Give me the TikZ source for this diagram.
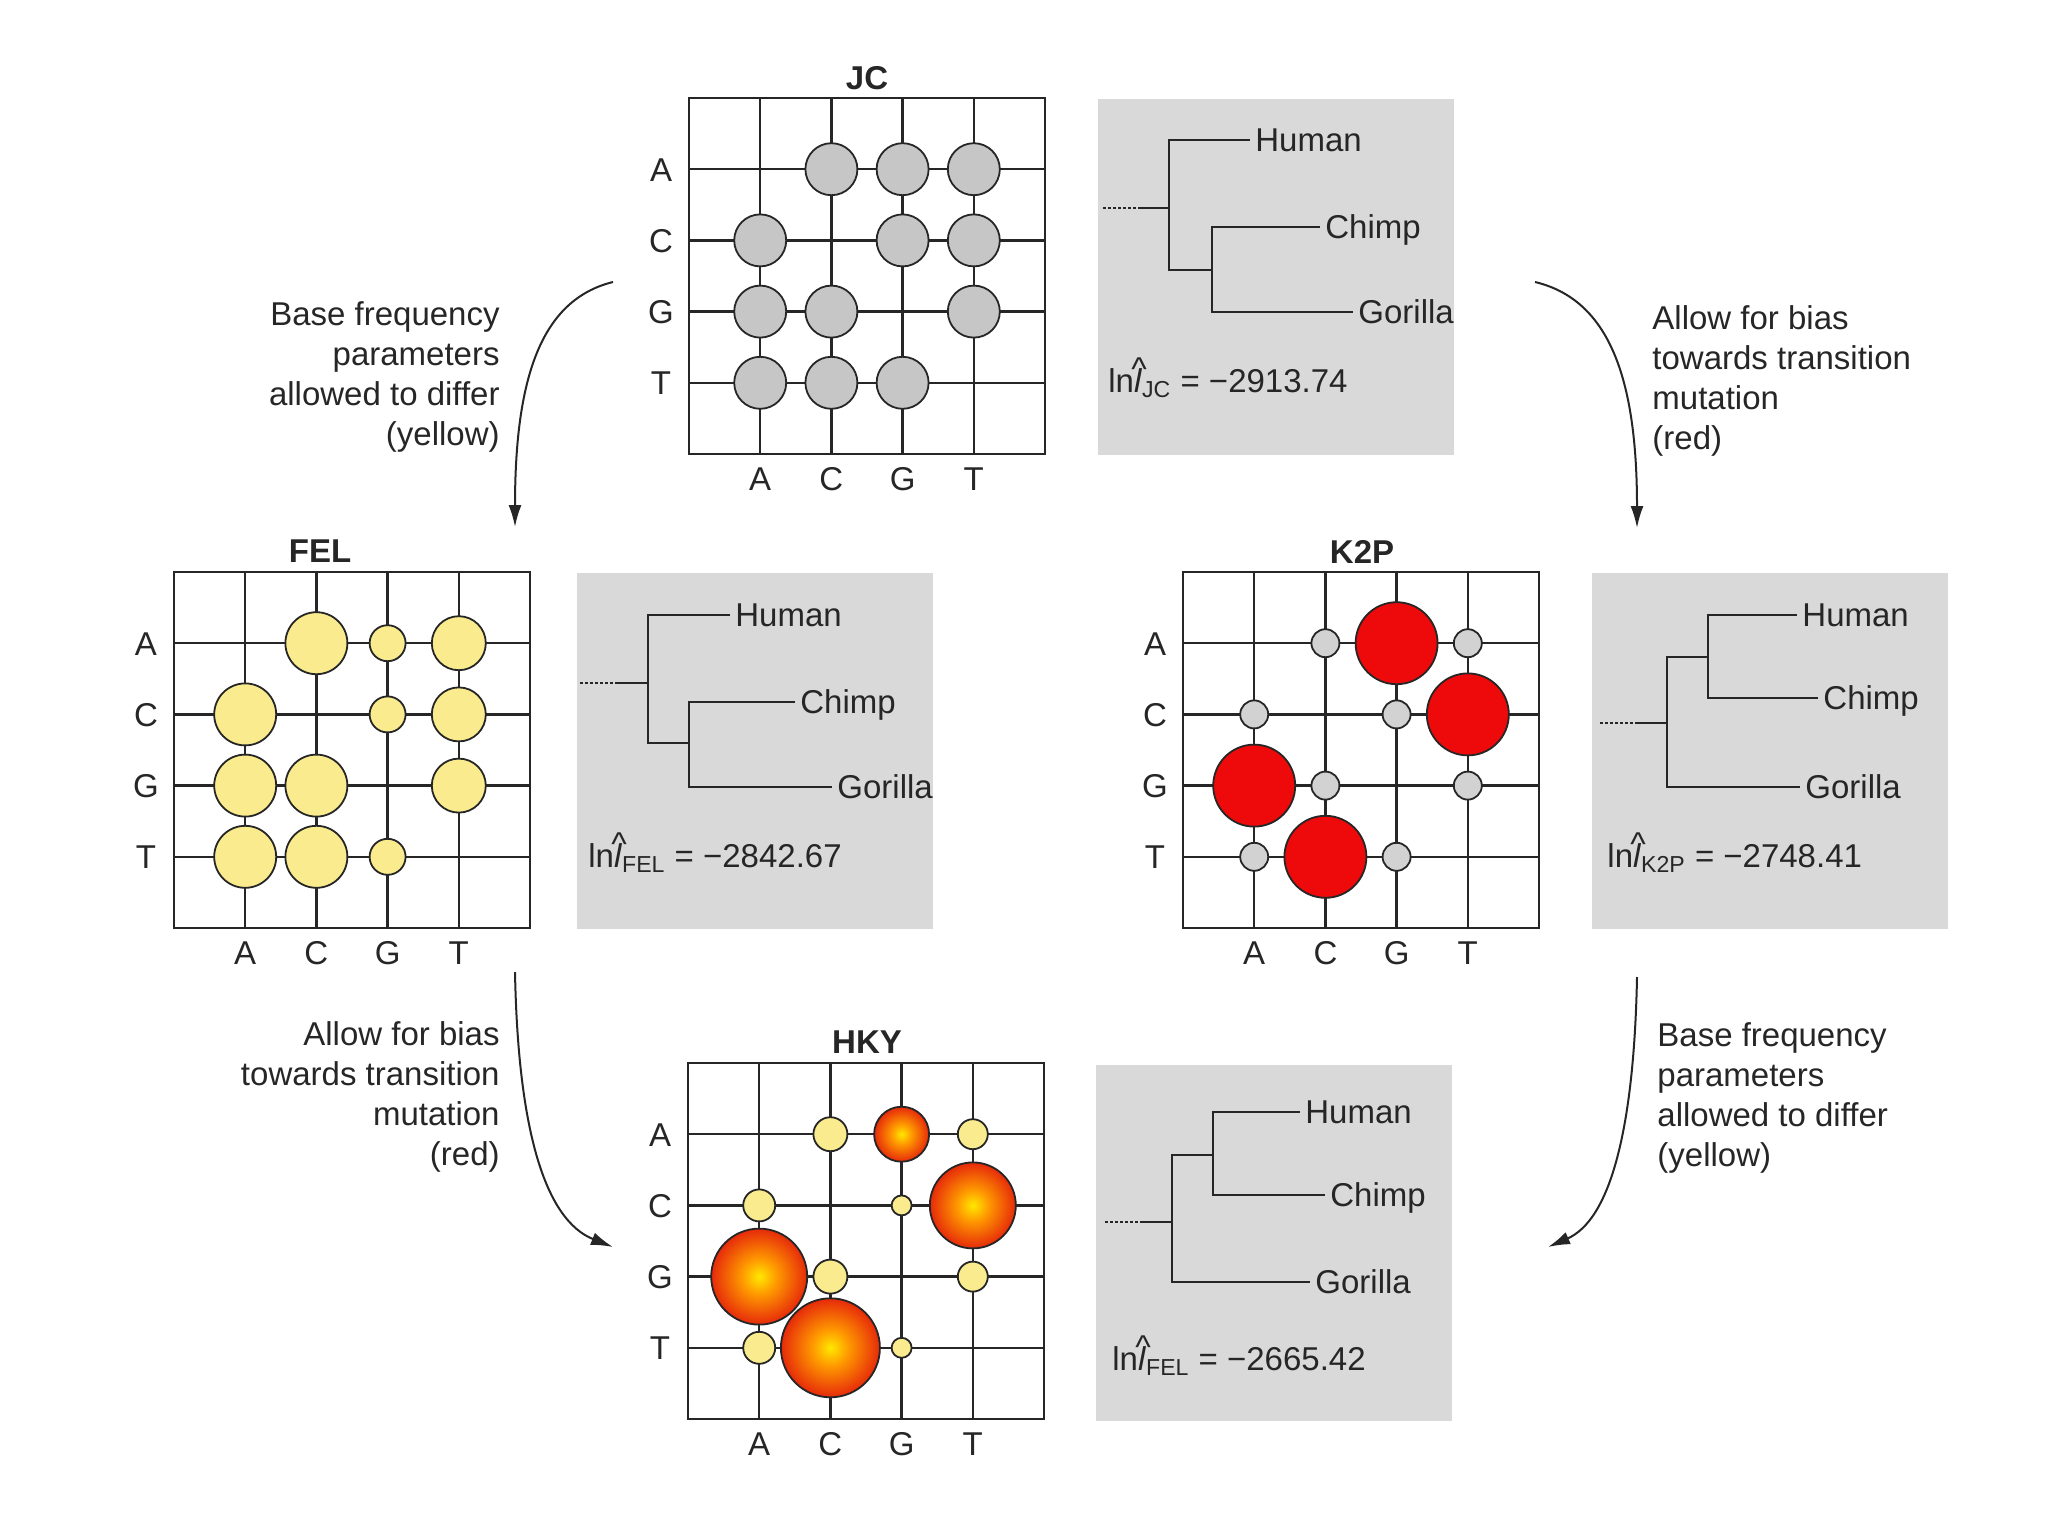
\documentclass[tikz,border=0pt]{standalone}
\usepackage{fontspec}
\setmainfont{Liberation Sans}
\usetikzlibrary{arrows.meta,positioning}
\definecolor{panelgray}{HTML}{D9D9D9}
\definecolor{jcgray}{HTML}{C6C6C6}
\definecolor{tsgray}{HTML}{D2D2D2}
\definecolor{felyellow}{HTML}{FAEC8E}
\definecolor{k2pred}{HTML}{EE0A0A}
\definecolor{hkyyel}{HTML}{FFE800}
\definecolor{hkyorg}{HTML}{FF9A00}
\definecolor{hkyred}{HTML}{E62A0A}
\definecolor{inkline}{HTML}{262626}

\pgfdeclareradialshading{hkyball}{\pgfpoint{0bp}{0bp}}{color(0bp)=(hkyyel); color(9bp)=(hkyorg); color(25bp)=(hkyred); color(50bp)=(hkyred)}

% l with a hat, for the log likelihoods
\newcommand{\lhat}{\makebox[0pt][l]{\hspace{-0.08em}\raisebox{0.35em}{\textasciicircum}}\textit{l}}

\tikzset{
  basegrid/.pic={
    \draw[gridline] (0,0) rectangle (356,356);
    \foreach \k in {1,...,4} {
      \draw[gridline] (\k*71.2,0) -- (\k*71.2,356);
      \draw[gridline] (0,\k*71.2) -- (356,\k*71.2);
    }
    \foreach \b [count=\k] in {A,C,G,T} {
      \node[baselabel] (-row\k) at (-28,\k*71.2) {\b};
      \node[baselabel] (-col\k) at (\k*71.2,381) {\b};
    }
  }
}

\begin{document}
\begin{tikzpicture}[x=0.5pt, y=-0.5pt,
  every node/.style={font=\fontsize{16.5}{20}\selectfont, text=inkline},
  gridline/.style={line width=1.2pt, draw=inkline},
  baselabel/.style={inner sep=0pt, text height=11.8pt, text depth=0pt},
  modeltitle/.style={font=\fontsize{16.5}{20}\selectfont\bfseries, inner sep=0pt, text height=11.8pt, text depth=0pt},
  treebox/.style={fill=panelgray, draw=none, minimum width=178pt, minimum height=178pt, inner sep=0pt, anchor=north west},
  branch/.style={line width=1pt, draw=inkline},
  rootline/.style={line width=1pt, draw=inkline, dash pattern=on 1.5pt off 1pt},
  taxon/.style={anchor=west, inner xsep=2.5pt, inner ysep=0pt, text height=11.8pt, text depth=0pt},
  lnlabel/.style={anchor=base west, inner sep=0pt},
  note/.style={inner sep=0pt},
  flowarrow/.style={-{Latex[length=11pt,width=6.5pt]}, line width=1pt, draw=inkline},
  dotline/.style={draw=inkline, line width=0.9pt},
  jcdot/.style={dotline, fill=jcgray},
  feldot/.style={dotline, fill=felyellow},
  k2pdot/.style={dotline, fill=k2pred},
  tsdot/.style={dotline, fill=tsgray},
  hkydot/.style={dotline, shade, shading=hkyball},
]
\useasboundingbox (0,0) rectangle (2048,1536);

% model grids
\pic (jc) at (689,98) {basegrid};
\pic (fel) at (174,572) {basegrid};
\pic (k2p) at (1183,572) {basegrid};
\pic (hky) at (688,1063) {basegrid};

\node[modeltitle] (jctitle) at (867,78) {JC};
\node[modeltitle] (feltitle) at (320,551) {FEL};
\node[modeltitle] (k2ptitle) at (1362,552) {K2P};
\node[modeltitle] (hkytitle) at (867,1042) {HKY};

% JC: all rates equal
\begin{scope}[shift={(689,98)}]
  \foreach \r/\c in {1/2,1/3,1/4,2/1,2/3,2/4,3/1,3/2,3/4,4/1,4/2,4/3}
    \draw[jcdot] (\c*71.2,\r*71.2) circle[radius=13pt];
\end{scope}

% FEL: base frequencies
\begin{scope}[shift={(174,572)}]
  \foreach \r/\c/\s in {1/2/15.5pt,1/3/9pt,1/4/13.5pt,2/1/15.5pt,2/3/9pt,2/4/13.5pt,
                        3/1/15.5pt,3/2/15.5pt,3/4/13.5pt,4/1/15.5pt,4/2/15.5pt,4/3/9pt}
    \draw[feldot] (\c*71.2,\r*71.2) circle[radius=\s];
\end{scope}

% K2P: transitions vs transversions
\begin{scope}[shift={(1183,572)}]
  \foreach \r/\c in {1/2,1/4,2/1,2/3,3/2,3/4,4/1,4/3}
    \draw[tsdot] (\c*71.2,\r*71.2) circle[radius=7pt];
  \foreach \r/\c in {1/3,2/4,3/1,4/2}
    \draw[k2pdot] (\c*71.2,\r*71.2) circle[radius=20.5pt];
\end{scope}

% HKY: both
\begin{scope}[shift={(688,1063)}]
  \foreach \r/\c/\s in {1/3/13.75pt,2/4/21.5pt,3/1/24pt,4/2/24.75pt}
    \draw[hkydot] (\c*71.2,\r*71.2) circle[radius=\s];
  \foreach \r/\c/\s in {1/2/8.5pt,1/4/7.5pt,2/1/8pt,2/3/5pt,3/2/8.5pt,3/4/7.5pt,4/1/8pt,4/3/5pt}
    \draw[feldot] (\c*71.2,\r*71.2) circle[radius=\s];
\end{scope}

% tree panels
\node[treebox] (jcbox) at (1098,99) {};
\node[treebox] (felbox) at (577,573) {};
\node[treebox] (k2pbox) at (1592,573) {};
\node[treebox] (hkybox) at (1096,1065) {};

\begin{scope}[shift={(1098,99)}]
  \node[taxon] (jchuman) at (152,41) {Human};
  \node[taxon] (jcchimp) at (222,128) {Chimp};
  \node[taxon] (jcgorilla) at (255,213) {Gorilla};
  \draw[branch] (jchuman.west) -| (71,171) -- (114,171);
  \draw[branch] (jcchimp.west) -| (114,213) -- (jcgorilla.west);
  \draw[rootline] (5,109) -- (40,109);
  \draw[branch] (40,109) -- (71,109);
  \node[lnlabel] (jclnl) at (10,293) {ln\lhat\textsubscript{JC} = −2913.74};
\end{scope}

\begin{scope}[shift={(577,573)}]
  \node[taxon] (felhuman) at (153,42) {Human};
  \node[taxon] (felchimp) at (218,129) {Chimp};
  \node[taxon] (felgorilla) at (255,214) {Gorilla};
  \draw[branch] (felhuman.west) -| (71,170) -- (112,170);
  \draw[branch] (felchimp.west) -| (112,214) -- (felgorilla.west);
  \draw[rootline] (3,110) -- (40,110);
  \draw[branch] (40,110) -- (71,110);
  \node[lnlabel] (fellnl) at (11,294) {ln\lhat\textsubscript{FEL} = −2842.67};
\end{scope}

\begin{scope}[shift={(1592,573)}]
  \node[taxon] (k2phuman) at (205,42) {Human};
  \node[taxon] (k2pchimp) at (226,125) {Chimp};
  \node[taxon] (k2pgorilla) at (208,214) {Gorilla};
  \draw[branch] (k2phuman.west) -| (116,125) -- (k2pchimp.west);
  \draw[branch] (116,84) -| (75,214) -- (k2pgorilla.west);
  \draw[rootline] (8,150) -- (45,150);
  \draw[branch] (45,150) -- (75,150);
  \node[lnlabel] (k2plnl) at (15,294) {ln\lhat\textsubscript{K2P} = −2748.41};
\end{scope}

\begin{scope}[shift={(1096,1065)}]
  \node[taxon] (hkyhuman) at (204,47) {Human};
  \node[taxon] (hkychimp) at (229,130) {Chimp};
  \node[taxon] (hkygorilla) at (214,217) {Gorilla};
  \draw[branch] (hkyhuman.west) -| (117,130) -- (hkychimp.west);
  \draw[branch] (117,90) -| (76,217) -- (hkygorilla.west);
  \draw[rootline] (9,157) -- (46,157);
  \draw[branch] (46,157) -- (76,157);
  \node[lnlabel] (hkylnl) at (16,305) {ln\lhat\textsubscript{FEL} = −2665.42};
\end{scope}

% steps between models
\node[note, anchor=east, align=right] (freqnoteA) at (500,377)
  {Base frequency\\parameters\\allowed to differ\\(yellow)};
\node[note, anchor=west, align=left] (biasnoteA) at (1652,381)
  {Allow for bias\\towards transition\\mutation\\(red)};
\node[note, anchor=east, align=right] (biasnoteB) at (500,1097)
  {Allow for bias\\towards transition\\mutation\\(red)};
\node[note, anchor=west, align=left] (freqnoteB) at (1657,1098)
  {Base frequency\\parameters\\allowed to differ\\(yellow)};

\coordinate (jcout1) at (613,282);
\coordinate (felin) at (515,527);
\coordinate (jcout2) at (1535,282);
\coordinate (k2pin) at (1637,528);
\coordinate (felout) at (515,972);
\coordinate (hkyin1) at (613,1247);
\coordinate (k2pout) at (1637,977);
\coordinate (hkyin2) at (1548,1247);

\draw[flowarrow] (jcout1) .. controls +(-73,18) and +(0,-147) .. (felin);
\draw[flowarrow] (jcout2) .. controls +(75,18) and +(0,-148) .. (k2pin);
\draw[flowarrow] (felout) .. controls +(3,158) and +(-68,-27) .. (hkyin1);
\draw[flowarrow] (k2pout) .. controls +(-3,153) and +(62,-27) .. (hkyin2);

\end{tikzpicture}
\end{document}
